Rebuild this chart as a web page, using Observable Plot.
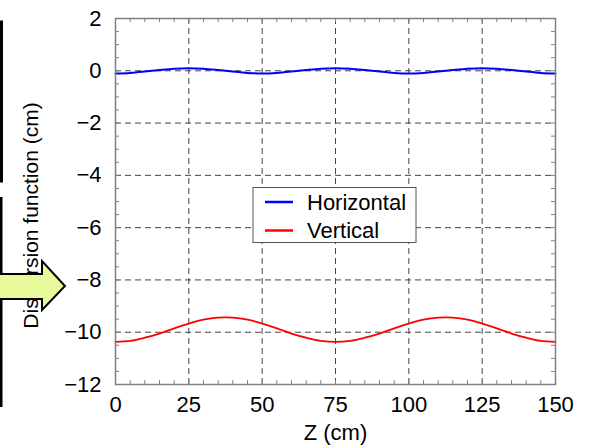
<!DOCTYPE html>
<html><head><meta charset="utf-8">
<script src="https://cdn.jsdelivr.net/npm/d3@7"></script>
<script src="https://cdn.jsdelivr.net/npm/@observablehq/plot@0.6"></script>
<style>
body{margin:0;background:#fff}
#chart{position:relative;width:595px;height:448px;overflow:hidden}
</style>
</head><body><div id="chart"></div>
<script>
// ---- data ----
const zValues = [0,5,10,15,20,25,30,35,40,45,50,55,60,65,70,75,80,85,90,95,100,105,110,115,120,125,130,135,140,145,150];
const horizontal = [-0.10,-0.08,-0.03,0.03,0.08,0.10,0.08,0.03,-0.03,-0.08,-0.10,-0.08,-0.03,0.03,0.08,0.10,0.08,0.03,-0.03,-0.08,-0.10,-0.08,-0.03,0.03,0.08,0.10,0.08,0.03,-0.03,-0.08,-0.10];
const vertical = [-10.37,-10.33,-10.21,-10.05,-9.85,-9.67,-9.52,-9.44,-9.44,-9.52,-9.67,-9.85,-10.05,-10.21,-10.33,-10.37,-10.33,-10.21,-10.05,-9.85,-9.67,-9.52,-9.44,-9.44,-9.52,-9.67,-9.85,-10.05,-10.21,-10.33,-10.37];
const seriesNames = ["Horizontal","Vertical"];
const seriesColors = ["#0000ff","#ff0000"];
const xTicks = [0,25,50,75,100,125,150];
const yTicks = [-12,-10,-8,-6,-4,-2,0,2];
const xMinor = d3.range(0,150.01,5);
const yMinor = d3.range(-12,2.01,0.5);
const xLabel = "Z (cm)";
const yLabel = "Dispersion function (cm)";

const hData = zValues.map((z,i)=>({z, v: horizontal[i]}));
const vData = zValues.map((z,i)=>({z, v: vertical[i]}));

const W=595, H=448, mL=115, mR=40, mT=18, mB=64;
const plotH = H-mT-mB, plotW = W-mL-mR;
const font = "'Liberation Sans', Arial, sans-serif";
const fmt = d => d < 0 ? "\u2212" + (-d) : String(d);
const frameGray = "#808080";

const plot = Plot.plot({
  width: W, height: H,
  marginLeft: mL, marginRight: mR, marginTop: mT, marginBottom: mB,
  style: {fontFamily: font, fontSize: "22px", color: "#000", background: "transparent", overflow: "visible"},
  x: {domain: [0,150], ticks: xTicks, label: null},
  y: {domain: [-12,2], ticks: yTicks, label: null},
  marks: [
    Plot.gridX(xTicks, {stroke: "#444", strokeOpacity: 1, strokeWidth: 1, strokeDasharray: "6,4"}),
    Plot.gridY(yTicks, {stroke: "#444", strokeOpacity: 1, strokeWidth: 1, strokeDasharray: "6,4"}),
    Plot.tickX(xMinor, {x: d=>d, insetTop: plotH-4, stroke: frameGray, strokeWidth: 1}),
    Plot.tickX(xMinor, {x: d=>d, insetBottom: plotH-4, stroke: frameGray, strokeWidth: 1}),
    Plot.tickY(yMinor, {y: d=>d, insetRight: plotW-4, stroke: frameGray, strokeWidth: 1}),
    Plot.tickY(yMinor, {y: d=>d, insetLeft: plotW-4, stroke: frameGray, strokeWidth: 1}),
    Plot.line(hData, {x: "z", y: "v", stroke: seriesColors[0], strokeWidth: 2, curve: "catmull-rom"}),
    Plot.line(vData, {x: "z", y: "v", stroke: seriesColors[1], strokeWidth: 1.8, curve: "catmull-rom"}),
    Plot.frame({stroke: frameGray, strokeWidth: 1.5}),
    Plot.axisX(xTicks, {tickSize: 0, tickPadding: 12, tickFormat: fmt, fontSize: 22, label: null}),
    Plot.axisY(yTicks, {tickSize: 0, tickPadding: 14, tickFormat: fmt, fontSize: 22, label: null}),
    Plot.text([xLabel], {frameAnchor: "bottom", dy: 55, fontSize: 22, textAnchor: "middle", text: d=>d}),
    Plot.text([yLabel], {frameAnchor: "left", rotate: -90, dx: -84, dy: 14, fontSize: 21, textAnchor: "middle", text: d=>d})
  ]
});
document.getElementById("chart").appendChild(plot);

const svg = d3.select(plot);
// legend
const lg = svg.append("g").attr("aria-label", "legend")
  .style("font-family", font).style("font-size", "22px").attr("text-anchor", "start");
lg.append("rect").attr("x", 253).attr("y", 187.5).attr("width", 163).attr("height", 55)
  .attr("fill", "#fff").attr("stroke", "#555").attr("stroke-width", 1);
seriesNames.forEach((name, i) => {
  const y = 202 + i*28.5;
  lg.append("line").attr("x1", 265).attr("x2", 293).attr("y1", y).attr("y2", y)
    .attr("stroke", seriesColors[i]).attr("stroke-width", 2.5);
  lg.append("text").attr("x", 307).attr("y", y + 7.5).attr("fill", "#000")
    .style("text-anchor", "start").style("font-size", "22px").text(name);
});
// slide decorations: left bars and arrow
const deco = svg.append("g");
deco.append("rect").attr("x", 0).attr("y", 20.5).attr("width", 3).attr("height", 162).attr("fill", "#000");
deco.append("rect").attr("x", 0).attr("y", 197).attr("width", 2.5).attr("height", 210).attr("fill", "#000");
deco.append("polygon")
  .attr("points", "-3,274 42,274 42,261 65,286 42,310 42,299 -3,299")
  .attr("fill", "#e8f99a").attr("stroke", "#000").attr("stroke-width", 2).attr("stroke-linejoin", "miter");
</script>
</body></html>
